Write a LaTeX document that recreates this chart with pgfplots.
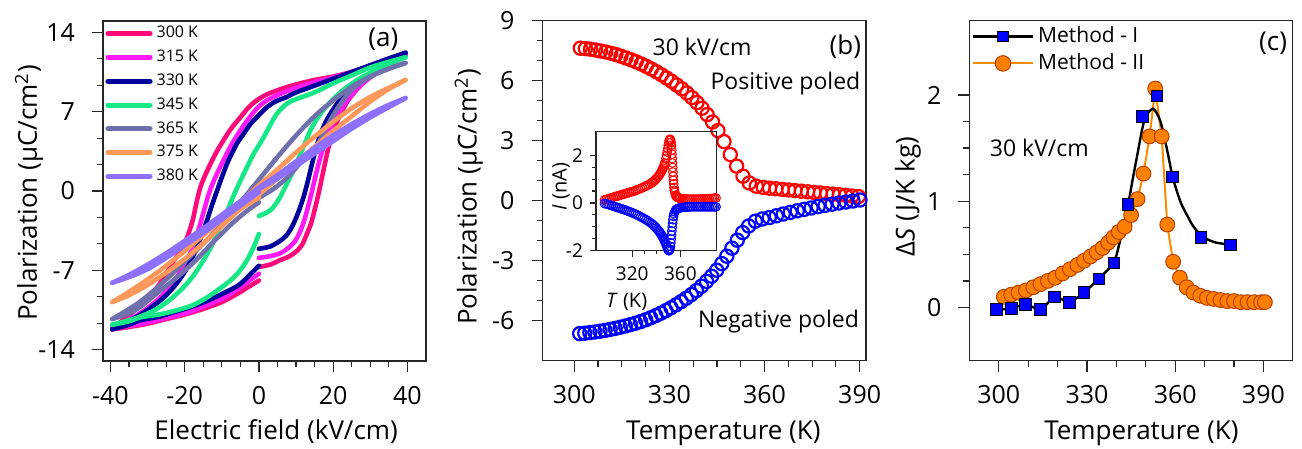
\documentclass[border=0pt]{standalone}
\usepackage{fontspec}
\setmainfont{Open Sans}
\usepackage{pgfplots}
\pgfplotsset{compat=1.18}

\definecolor{c300}{HTML}{FF0A78}
\definecolor{c315}{HTML}{FF1AF5}
\definecolor{c330}{HTML}{00009C}
\definecolor{c345}{HTML}{17E887}
\definecolor{c365}{HTML}{7070AD}
\definecolor{c375}{HTML}{FF985A}
\definecolor{c380}{HTML}{8E70FF}
\definecolor{oline}{HTML}{FF8C00}
\definecolor{ofill}{HTML}{FF8000}
\definecolor{oedge}{HTML}{B84000}

\pgfplotsset{
  base/.style={
    scale only axis,
    axis line style={line width=0.6pt, black!85},
    tick align=outside,
    xtick pos=bottom, ytick pos=left,
    major tick length=5.5pt, minor tick length=3pt,
    every tick/.style={black!85, line width=0.6pt},
    tick label style={font=\fontsize{12.5}{14}\selectfont},
    label style={font=\fontsize{13}{15}\selectfont},
    /pgf/number format/assume math mode=true,
  },
  bigshift/.style={xticklabel style={yshift=-3.5pt}, yticklabel style={xshift=-5pt}},
  loop/.style={smooth, tension=0.5, line width=2.3pt, line cap=round, line join=round},
}

\begin{document}
\begin{tikzpicture}
\useasboundingbox (0,0) rectangle (651pt,224.5pt);

%% ---------------- (a) ----------------
\begin{axis}[base, bigshift,
  at={(51.5pt,44pt)}, anchor=south west,
  width=161.5pt, height=170pt,
  xmin=-42, xmax=45, ymin=-15, ymax=15,
  xtick={-40,-20,0,20,40}, ytick={-14,-7,0,7,14},
  minor x tick num=3, minor y tick num=2,
  xlabel={Electric field (kV/cm)},
  ylabel={Polarization (μC/cm\textsuperscript{2})},
  xlabel style={at={(axis description cs:0.536,-0.209)}, anchor=center},
  ylabel style={at={(axis description cs:-0.229,0.494)}, anchor=center},
  legend style={at={(rel axis cs:0,1)}, anchor=north west, draw=none, fill=none,
    font=\fontsize{8}{9}\selectfont, row sep=0.6pt, inner xsep=1pt, inner ysep=0.5pt},
  legend cell align=left,
  legend image code/.code={\draw[#1, line width=2.5pt, line cap=round] (1.2pt,0pt) -- (22.3pt,0pt);},
]
% 300 K
\addplot[c300, loop] coordinates {(0,-6.7)(3,-6.5)(5.7,-6.1)(8,-5.8)(10.2,-5.3)(11.7,-4.7)(12.9,-3.8)(14,-2.9)(14.9,-1.8)(15.8,-0.6)(16.6,0.6)(17.5,2.0)(18.5,3.5)(19.5,4.8)(21,6.1)(22.5,7.1)(24,8.0)(26.5,9.0)(29,9.8)(32,10.5)(35.5,11.2)(39.5,12.0)};
\addlegendentry{300 K}
\addplot[c300, loop, forget plot] coordinates {(39.5,12.0)(36,11.6)(33,11.3)(30,11.0)(25,10.5)(20,10.1)(15,9.8)(10,9.4)(6,9.0)(2,8.5)(-1,7.9)(-3,7.3)(-5,6.5)(-7.5,5.5)(-9.5,4.5)(-11.5,3.4)(-13.2,2.3)(-14.6,1.3)(-15.8,0.3)(-16.8,-1.0)(-17.7,-2.4)(-18.6,-3.4)(-19.6,-4.3)(-21,-5.2)(-23,-6.2)(-25,-7.3)(-27.4,-8.5)(-30,-9.4)(-33,-10.4)(-36,-11.2)(-39.5,-12.2)};
\addplot[c300, loop, forget plot] coordinates {(-39.5,-12.2)(-35,-12.0)(-30,-11.7)(-25,-11.3)(-20,-10.9)(-15,-10.4)(-10,-9.8)(-6,-9.1)(-3,-8.5)(0,-7.9)};
% 315 K
\addplot[c315, loop] coordinates {(0,-5.9)(3,-5.75)(5.7,-5.5)(8,-5.0)(9.8,-4.4)(11.2,-3.5)(12.3,-2.5)(13.3,-1.3)(14.3,0.0)(15.3,1.4)(16.4,2.8)(17.6,4.1)(19,5.3)(20.5,6.3)(22.5,7.4)(25,8.5)(28,9.5)(31.5,10.4)(35.5,11.3)(39.5,12.0)};
\addlegendentry{315 K}
\addplot[c315, loop, forget plot] coordinates {(39.5,12.0)(35,11.5)(30,11.0)(25,10.5)(20,10.0)(15,9.6)(10,9.1)(6,8.6)(2.2,8.0)(-0.5,7.3)(-3.2,6.2)(-5.5,5.1)(-7.7,3.9)(-9.4,2.8)(-10.9,1.8)(-12.3,0.8)(-13.5,-0.25)(-14.7,-1.6)(-15.8,-2.9)(-17.1,-4.3)(-18.5,-5.5)(-20.5,-6.8)(-23,-8.0)(-26,-9.2)(-29.5,-10.2)(-33,-11.0)(-36,-11.5)(-39.5,-12.1)};
\addplot[c315, loop, forget plot] coordinates {(-39.5,-12.1)(-35,-11.9)(-30,-11.6)(-25,-11.2)(-20,-10.8)(-15,-10.2)(-10,-9.5)(-6,-8.7)(-3,-8.0)(0,-7.3)};
% 330 K
\addplot[c330, loop] coordinates {(0,-5.1)(3,-4.9)(5.7,-4.4)(7.7,-3.8)(9.3,-2.9)(10.7,-1.8)(12,-0.55)(13.2,0.9)(14.3,2.4)(15.4,3.8)(16.6,5.0)(18,6.1)(19.8,7.1)(22,8.1)(25,9.1)(28.5,10.0)(32,10.8)(36,11.6)(39.5,12.2)};
\addlegendentry{330 K}
\addplot[c330, loop, forget plot] coordinates {(39.5,12.2)(35,11.7)(30,11.1)(25,10.5)(20,9.9)(15,9.3)(10,8.7)(7.5,8.3)(4.5,7.9)(2.2,7.4)(0,6.7)(-2.3,5.9)(-4,5.1)(-5.9,4.2)(-7.3,3.3)(-8.6,2.4)(-10,1.2)(-11.3,0.0)(-12.7,-1.3)(-14,-2.6)(-15.3,-3.8)(-16.7,-5.0)(-18.4,-6.2)(-20.3,-7.3)(-23,-8.5)(-26,-9.5)(-30,-10.5)(-34.5,-11.4)(-39.5,-12.2)};
\addplot[c330, loop, forget plot] coordinates {(-39.5,-12.2)(-35,-11.8)(-31.9,-11.4)(-27,-11.1)(-23,-10.7)(-18,-10.2)(-14,-9.7)(-10,-9.1)(-7,-8.6)(-5,-8.2)(-2.5,-7.4)(0,-6.6)};
% 345 K
\addplot[c345, loop] coordinates {(0,-2.2)(1.5,-2.0)(3.1,-1.7)(4.4,-1.2)(5.7,-0.55)(7,0.3)(8.4,1.2)(9.8,2.2)(11.1,3.2)(12.5,4.3)(13.8,5.3)(15.5,6.3)(17.5,7.2)(20,8.1)(23,9.0)(27,9.9)(31,10.6)(35,11.2)(39.5,11.8)};
\addlegendentry{345 K}
\addplot[c345, loop, forget plot] coordinates {(39.5,11.8)(35,11.4)(30,10.9)(25,10.2)(20,9.5)(15,8.7)(10,8.1)(7.5,7.7)(4.8,6.8)(2.2,5.3)(0.5,4.3)(-1.4,3.3)(-3.2,2.1)(-5,0.9)(-6.4,-0.1)(-7.7,-1.1)(-9.5,-2.5)(-11.3,-3.8)(-13,-5.0)(-14.9,-6.1)(-17.5,-7.4)(-20.3,-8.5)(-24,-9.6)(-28,-10.5)(-33,-11.2)(-39.5,-11.8)};
\addplot[c345, loop, forget plot] coordinates {(-39.5,-11.8)(-35,-11.5)(-31.9,-11.15)(-27,-10.9)(-23,-10.6)(-18,-10.1)(-14,-9.4)(-10.5,-8.6)(-7.7,-7.9)(-5.3,-7.1)(-3.2,-6.1)(-1.5,-5.0)(0,-3.8)};
% 365 K
\addplot[c365, loop] coordinates {(0,-0.6)(4,0.2)(8,1.3)(12,2.8)(15.6,4.0)(18,5.5)(21,7.2)(24.6,8.8)(28,9.7)(32,10.4)(36,10.9)(39.5,11.3)};
\addlegendentry{365 K}
\addplot[c365, loop, forget plot] coordinates {(39.5,11.3)(35,10.8)(30,10.1)(25,9.2)(20,8.0)(15,6.6)(10,4.9)(5,3.0)(0,1.0)(-5,-1.0)(-10,-2.9)(-14,-4.3)(-18,-5.6)(-23,-7.2)(-28,-8.7)(-33,-10.0)(-39.5,-11.3)};
\addplot[c365, loop, forget plot] coordinates {(-39.5,-11.3)(-35,-10.8)(-31.9,-10.2)(-27,-8.9)(-22,-7.6)(-17,-6.1)(-12,-4.4)(-7,-2.8)(-3,-1.7)(0,-1.0)};
% 375 K
\addplot[c375, loop] coordinates {(0,-0.3)(5,1.1)(10,2.5)(15,3.9)(20,5.3)(25,6.6)(30,7.9)(35,9.0)(39.5,9.8)};
\addlegendentry{375 K}
\addplot[c375, loop, forget plot] coordinates {(39.5,9.8)(35,9.1)(30,8.3)(25,7.3)(20,6.1)(15,4.8)(10,3.4)(5,1.9)(0,0.5)(-5,-1.0)(-10,-2.5)(-15,-3.9)(-20,-5.3)(-25,-6.6)(-30,-7.8)(-35,-8.9)(-39.5,-9.8)};
\addplot[c375, loop, forget plot] coordinates {(-39.5,-9.8)(-35,-9.2)(-30,-8.3)(-25,-7.2)(-20,-6.0)(-15,-4.6)(-10,-3.1)(-5,-1.6)(0,-0.6)};
% 380 K
\addplot[c380, loop] coordinates {(0,0.2)(5,1.1)(10,2.2)(15,3.3)(20,4.4)(25,5.5)(30,6.5)(35,7.4)(39.5,8.2)};
\addlegendentry{380 K}
\addplot[c380, loop, forget plot] coordinates {(39.5,8.2)(35,7.6)(30,6.8)(25,5.9)(20,4.9)(15,3.8)(10,2.6)(5,1.4)(0,0.3)(-5,-0.9)(-10,-2.1)(-15,-3.3)(-20,-4.4)(-25,-5.5)(-30,-6.5)(-35,-7.4)(-39.5,-8.1)};
\addplot[c380, loop, forget plot] coordinates {(-39.5,-8.1)(-35,-7.6)(-30,-6.9)(-25,-5.9)(-20,-4.8)(-15,-3.7)(-10,-2.5)(-5,-1.3)(0,-0.1)};
\node[font=\fontsize{13}{15}\selectfont] at (axis cs:33.5,13.4) {(a)};
\end{axis}

%% ---------------- (b) ----------------
\begin{axis}[base, bigshift,
  at={(271.3pt,44.2pt)}, anchor=south west,
  width=161.7pt, height=170pt,
  xmin=290, xmax=392, ymin=-8, ymax=9,
  xtick={300,330,360,390}, ytick={-6,-3,0,3,6,9},
  minor x tick num=3, minor y tick num=2,
  xlabel={Temperature (K)},
  ylabel={Polarization (μC/cm\textsuperscript{2})},
  xlabel style={at={(axis description cs:0.559,-0.213)}, anchor=center},
  ylabel style={at={(axis description cs:-0.228,0.481)}, anchor=center},
]
\addplot[only marks, mark=o, mark size=3.3pt, red, mark options={line width=1.1pt}] coordinates {
(301.9,7.62)(303.5,7.60)(305.1,7.57)(306.7,7.53)(308.3,7.48)(309.9,7.43)(311.5,7.37)(313.1,7.30)(314.7,7.22)(316.3,7.13)(317.9,7.04)(319.5,6.94)(321.1,6.83)(322.7,6.71)(324.3,6.58)(325.9,6.44)(327.5,6.29)(329.1,6.13)(330.7,5.96)(332.3,5.78)(333.9,5.59)(335.5,5.38)(337.1,5.15)(338.7,4.90)(340.3,4.62)(341.9,4.30)(343.6,3.93)(345.3,3.50)(347.2,2.95)(349.2,2.30)(351.2,1.72)(353.2,1.22)(355.2,0.88)(357.4,0.72)(359.6,0.66)(361.6,0.62)(363.6,0.59)(365.6,0.56)(367.6,0.53)(369.6,0.50)(371.6,0.47)(373.6,0.44)(375.6,0.41)(377.6,0.38)(379.6,0.35)(381.6,0.32)(383.6,0.29)(385.6,0.26)(387.6,0.23)(389.6,0.20)};
\addplot[only marks, mark=o, mark size=3.3pt, blue, mark options={line width=1.1pt}] coordinates {
(301.7,-6.65)(303.3,-6.63)(304.9,-6.60)(306.5,-6.57)(308.1,-6.53)(309.7,-6.49)(311.3,-6.44)(312.9,-6.39)(314.5,-6.33)(316.1,-6.27)(317.7,-6.20)(319.3,-6.13)(320.9,-6.05)(322.5,-5.96)(324.1,-5.86)(325.7,-5.75)(327.3,-5.63)(328.9,-5.50)(330.5,-5.36)(332.1,-5.21)(333.7,-5.05)(335.3,-4.88)(336.9,-4.70)(338.5,-4.50)(340.1,-4.28)(341.7,-4.04)(343.3,-3.78)(344.9,-3.48)(346.5,-3.15)(348.1,-2.78)(349.7,-2.38)(351.4,-1.98)(353.1,-1.60)(355.0,-1.27)(357.1,-1.03)(359.3,-0.92)(361.5,-0.85)(363.7,-0.76)(365.9,-0.67)(368.1,-0.59)(370.3,-0.51)(372.5,-0.44)(374.7,-0.37)(376.9,-0.30)(379.1,-0.24)(381.3,-0.18)(383.5,-0.12)(385.7,-0.07)(387.9,-0.02)(390.1,0.03)};
\node[font=\fontsize{13}{15}\selectfont] at (axis cs:385.5,7.7) {(b)};
\node[font=\fontsize{11.5}{13}\selectfont] at (axis cs:340.3,7.7) {30 kV/cm};
\node[font=\fontsize{11.5}{13}\selectfont] at (axis cs:366.6,5.87) {Positive poled};
\node[font=\fontsize{11.5}{13}\selectfont] at (axis cs:364.4,-6.05) {Negative poled};
\end{axis}

%% ---------------- inset ----------------
\begin{axis}[base,
  at={(298pt,99.2pt)}, anchor=south west,
  width=60.3pt, height=59.5pt,
  xmin=290, xmax=390, ymin=-2, ymax=3,
  xtick={320,360}, ytick={-2,0,2},
  minor x tick num=3, minor y tick num=3,
  major tick length=3pt, minor tick length=1.8pt,
  tick label style={font=\fontsize{9.5}{11}\selectfont},
  xticklabel style={yshift=-1.5pt},
  label style={font=\fontsize{10}{12}\selectfont},
  xlabel={\textit{T} (K)}, ylabel={\textit{I} (nA)},
  xlabel style={at={(axis description cs:0.254,-0.43)}, anchor=center},
  ylabel style={at={(axis description cs:-0.29,0.54)}, anchor=center},
  clip=false,
]
\addplot[only marks, mark=o, mark size=2.2pt, red, mark options={line width=0.5pt}] coordinates {
(297,0.13)(300,0.17)(303,0.22)(306,0.27)(309,0.31)(312,0.36)(315,0.40)(318,0.45)(321,0.49)(324,0.55)(327,0.61)(330,0.68)(333,0.75)(336,0.84)(338,0.92)(340,1.02)(342,1.14)(343.5,1.26)(345,1.40)(346,1.52)(347,1.68)(348,1.88)(348.5,2.0)(349,2.14)(349.5,2.28)(350,2.42)(350.4,2.53)(350.8,2.62)(351.3,2.68)(351.8,2.65)(352.2,2.55)(352.5,2.42)(352.8,2.22)(353.0,2.05)(353.2,1.87)(353.4,1.68)(353.6,1.49)(353.8,1.30)(354.0,1.12)(354.2,0.95)(354.45,0.80)(354.7,0.65)(355,0.53)(355.3,0.45)(356,0.33)(357,0.26)(358.5,0.21)(360,0.19)(363,0.17)(366,0.16)(369,0.16)(372,0.16)(375,0.16)(378,0.17)(381,0.17)(384,0.18)(387,0.19)(389.5,0.21)
(298.5,0.15)(301.5,0.195)(304.5,0.245)(307.5,0.29)(310.5,0.335)(313.5,0.38)(316.5,0.425)(319.5,0.47)(322.5,0.52)(325.5,0.58)(328.5,0.645)(331.5,0.715)(334.5,0.795)(337,0.88)(339,0.97)(341,1.08)(342.8,1.2)(344.3,1.33)(345.5,1.46)(346.5,1.60)(356.5,0.29)(357.7,0.235)(359.2,0.2)(361.5,0.18)(364.5,0.165)(367.5,0.16)(370.5,0.16)(373.5,0.16)(376.5,0.165)(379.5,0.17)(382.5,0.175)(385.5,0.185)(388.3,0.2)};
\addplot[only marks, mark=o, mark size=2.2pt, blue, mark options={line width=0.5pt}] coordinates {
(297,-0.02)(300,-0.06)(303,-0.11)(306,-0.16)(309,-0.21)(312,-0.26)(315,-0.31)(318,-0.37)(321,-0.43)(324,-0.50)(327,-0.58)(330,-0.66)(333,-0.75)(336,-0.86)(338,-0.95)(340,-1.05)(342,-1.17)(343.5,-1.28)(345,-1.40)(346,-1.50)(347,-1.61)(348,-1.74)(348.8,-1.85)(349.5,-1.94)(350.2,-2.00)(350.8,-2.00)(351.3,-1.94)(351.7,-1.82)(352.0,-1.68)(352.3,-1.52)(352.6,-1.35)(352.9,-1.18)(353.2,-1.01)(353.5,-0.85)(353.8,-0.70)(354.2,-0.56)(354.7,-0.45)(355.3,-0.37)(356,-0.31)(357,-0.26)(358.5,-0.22)(360,-0.20)(363,-0.18)(366,-0.17)(369,-0.16)(372,-0.16)(375,-0.16)(378,-0.16)(381,-0.16)(384,-0.16)(387,-0.16)(389.5,-0.16)
(298.5,-0.04)(301.5,-0.085)(304.5,-0.135)(307.5,-0.185)(310.5,-0.235)(313.5,-0.285)(316.5,-0.34)(319.5,-0.40)(322.5,-0.465)(325.5,-0.54)(328.5,-0.62)(331.5,-0.705)(334.5,-0.805)(337,-0.9)(339,-1.0)(341,-1.11)(342.8,-1.22)(344.3,-1.34)(345.5,-1.45)(346.5,-1.55)(347.5,-1.67)(356.5,-0.28)(357.7,-0.24)(359.2,-0.21)(361.5,-0.19)(364.5,-0.175)(367.5,-0.165)(370.5,-0.16)(373.5,-0.16)(376.5,-0.16)(379.5,-0.16)(382.5,-0.16)(385.5,-0.16)(388.3,-0.16)};
\end{axis}

%% ---------------- (c) ----------------
\begin{axis}[base, bigshift,
  at={(484.7pt,44.2pt)}, anchor=south west,
  width=161.7pt, height=170pt,
  xmin=290, xmax=400, ymin=-0.5, ymax=2.7,
  xtick={300,330,360,390}, ytick={0,1,2},
  minor x tick num=2, minor y tick num=3,
  xlabel={Temperature (K)},
  ylabel={Δ\textit{S} (J/K kg)},
  xlabel style={at={(axis description cs:0.532,-0.213)}, anchor=center},
  ylabel style={at={(axis description cs:-0.19,0.482)}, anchor=center},
  legend style={at={(rel axis cs:0,1)}, anchor=north west, draw=none, fill=none,
    font=\fontsize{10.5}{12}\selectfont, row sep=0pt, inner xsep=1pt, inner ysep=1pt},
  legend cell align=left,
  reverse legend,
]
\addplot[oline, line width=1pt, mark=*, mark size=3.7pt, mark options={fill=ofill, draw=oedge, line width=0.5pt},
  legend image code/.code={\draw[oline, line width=1pt] (0pt,0pt) -- (30pt,0pt);
    \draw[mark=*, mark size=3.9pt, mark options={fill=ofill, draw=oedge, line width=0.5pt}] plot coordinates {(15pt,0pt)};}]
 coordinates {(301.7,0.10)(304.2,0.12)(306.7,0.14)(309.2,0.16)(311.7,0.19)(314.2,0.22)(316.7,0.25)(319.2,0.28)(321.7,0.32)(324.2,0.36)(326.7,0.40)(329.0,0.44)(331.2,0.48)(333.3,0.52)(335.3,0.56)(337.2,0.61)(339.0,0.66)(340.8,0.71)(342.8,0.76)(345.0,0.87)(347.2,1.02)(349.2,1.26)(351.3,1.61)(353.2,2.06)(355.4,1.61)(357.3,0.78)(359.3,0.43)(361.6,0.28)(363.9,0.19)(366.2,0.14)(368.5,0.11)(370.8,0.09)(373.1,0.08)(375.4,0.07)(377.7,0.06)(380.0,0.06)(382.3,0.05)(384.6,0.05)(386.9,0.05)(389.2,0.05)(390.5,0.05)};
\addlegendentry{Method - II}
\addplot[black, line width=1.2pt, smooth, tension=0.4, forget plot] coordinates {(299.1,-0.02)(304.2,-0.01)(309.1,0.03)(314.2,-0.02)(319,0.10)(324,0.05)(328.9,0.14)(334,0.27)(339.1,0.42)(341,0.6)(342.5,0.78)(344,0.97)(345.5,1.2)(347,1.42)(348.5,1.64)(349.5,1.76)(351,1.84)(352.4,1.87)(353.5,1.84)(355,1.75)(356.5,1.58)(358,1.38)(359,1.24)(360.5,1.10)(362,0.98)(364,0.87)(366,0.77)(368.7,0.68)(371,0.64)(374,0.61)(378.7,0.59)};
\addplot[only marks, mark=square*, mark size=2.9pt, mark options={fill=blue, draw=black, line width=0.4pt},
  legend image code/.code={\draw[black, line width=1.2pt] (0pt,0pt) -- (30pt,0pt);
    \draw[mark=square*, mark size=2.7pt, mark options={fill=blue, draw=black, line width=0.4pt}] plot coordinates {(15pt,0pt)};}]
 coordinates {(299.1,-0.02)(304.2,-0.01)(309.1,0.03)(314.2,-0.02)(319,0.10)(324,0.05)(328.9,0.14)(334,0.27)(339.1,0.42)(343.9,0.97)(348.9,1.80)(353.8,1.99)(359,1.23)(368.7,0.66)(378.7,0.59)};
\addlegendentry{Method - I}
\node[font=\fontsize{13}{15}\selectfont] at (axis cs:393.3,2.49) {(c)};
\node[font=\fontsize{11.5}{13}\selectfont] at (axis cs:313.8,1.5) {30 kV/cm};
\end{axis}
\end{tikzpicture}
\end{document}
